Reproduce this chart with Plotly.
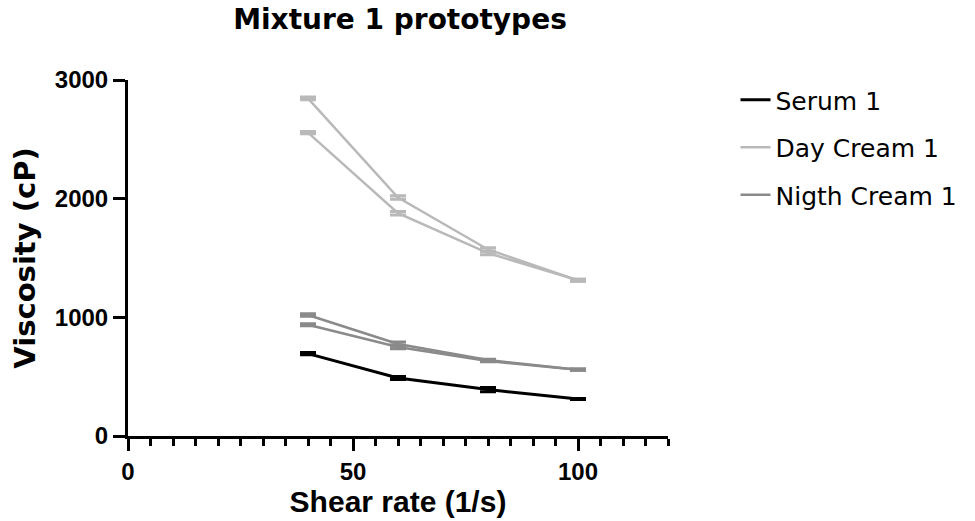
import plotly.graph_objects as go

shear_rate = [40, 60, 80, 100]

serum_1 = [694, 489, 391, 312]
serum_1_err = [10, 12, 18, 5]

day_cream_1_a = [2845, 2010, 1572, 1312]
day_cream_1_a_err = [12, 15, 15, 8]
day_cream_1_b = [2556, 1877, 1542, 1312]
day_cream_1_b_err = [10, 15, 15, 8]

night_cream_1_a = [1020, 775, 640, 559]
night_cream_1_a_err = [10, 18, 6, 5]
night_cream_1_b = [938, 750, 632, 559]
night_cream_1_b_err = [8, 15, 6, 5]

C_SERUM = "#000000"
C_DAY = "#b9b9b9"
C_NIGHT = "#8a8a8a"

fig = go.Figure()

def add(y, err, name, color, group, show, width):
    fig.add_trace(go.Scatter(
        x=shear_rate, y=y, name=name, mode="lines",
        line=dict(color=color, width=width),
        error_y=dict(type="data", array=err, color=color, thickness=3, width=8),
        legendgroup=group, showlegend=show,
    ))

add(serum_1, serum_1_err, "Serum 1", C_SERUM, "g1", True, 3)
add(day_cream_1_a, day_cream_1_a_err, "Day Cream 1", C_DAY, "g2", True, 2.5)
add(day_cream_1_b, day_cream_1_b_err, "Day Cream 1", C_DAY, "g2", False, 2.5)
add(night_cream_1_a, night_cream_1_a_err, "Nigth Cream 1", C_NIGHT, "g3", True, 2.5)
add(night_cream_1_b, night_cream_1_b_err, "Nigth Cream 1", C_NIGHT, "g3", False, 2.5)

tickfont = dict(family="Liberation Sans", size=24, color="black", weight="bold")

fig.update_layout(
    width=975, height=521,
    margin=dict(l=128, r=307, t=80, b=85, autoexpand=False),
    paper_bgcolor="white", plot_bgcolor="white",
    title=dict(text="<b>Mixture 1 prototypes</b>", x=400 / 975, xanchor="center",
               y=1 - 19 / 521, yanchor="middle",
               font=dict(family="DejaVu Sans", size=28, color="black")),
    font=dict(family="Liberation Sans", color="black"),
    legend=dict(x=1.125, xanchor="left", y=1 + 3 / 356, yanchor="top",
                font=dict(family="DejaVu Sans", size=25, color="black"),
                itemwidth=30,
                traceorder="grouped", tracegroupgap=12, bgcolor="rgba(0,0,0,0)"),
    showlegend=True,
)

fig.update_xaxes(
    range=[0, 120], tickvals=[0, 50, 100], ticktext=["0", "50", "100"],
    automargin=False,
    showline=True, linewidth=3, linecolor="black", showgrid=False, zeroline=False,
    ticks="outside", ticklen=12, tickwidth=3, tickcolor="black",
    minor=dict(dtick=5, tick0=0, ticks="outside", ticklen=7, tickwidth=3, tickcolor="black", showgrid=False),
    tickfont=tickfont,
    title=dict(text="<b>Shear rate (1/s)</b>", font=dict(family="Liberation Sans", size=30, color="black"), standoff=6),
)
fig.update_yaxes(
    range=[0, 3000], tickvals=[0, 1000, 2000, 3000],
    automargin=False,
    showline=True, linewidth=3, linecolor="black", showgrid=False, zeroline=False,
    ticks="outside", ticklen=12, tickwidth=3, tickcolor="black",
    tickfont=tickfont,
    title=dict(text="<b>Viscosity (cP)</b>", font=dict(family="DejaVu Sans", size=29, color="black"), standoff=11),
)

fig.write_html("out.html")
